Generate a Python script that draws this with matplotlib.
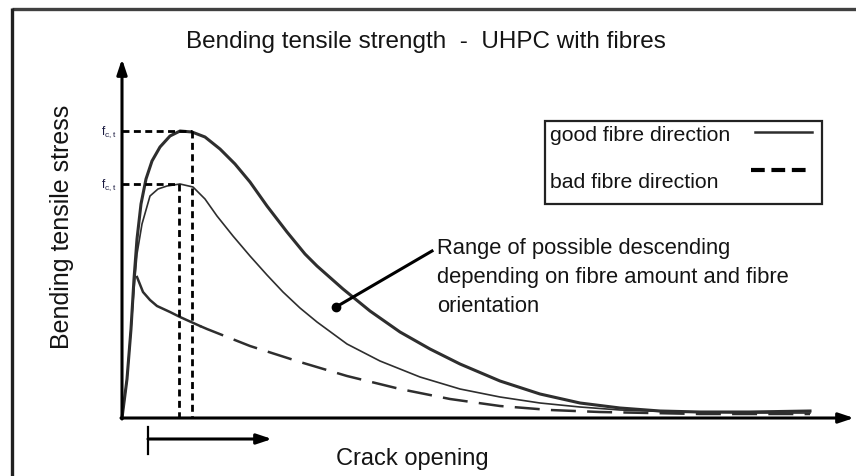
import matplotlib
matplotlib.use("Agg")
import matplotlib.pyplot as plt
from matplotlib.patches import Rectangle

# ---- data (pixel-based units: x = crack opening, y = stress) ----
W, H = 856, 477
X0, Y0 = 122, 419   # axis origin in picture pixels

good_x = [122,127,131,134,137,141,146,152,160,170,180,192,205,220,235,250,267,287,305,317,343,370,400,430,460,500,540,580,620,660,700,750,810]
good_y = [419,380,330,280,240,205,180,162,148,137,132,133,138,150,165,183,207,233,255,267,290,312,333,350,365,382,395,404,409,412,413,413,412]

thin_x = [122,127,131,134,137,142,150,158,167,180,193,205,217,233,250,267,283,300,317,347,380,420,460,500,540,580,620,680,750,810]
thin_y = [419,380,330,290,255,225,197,190,187,185,188,200,217,237,257,276,293,309,323,345,362,378,390,398,404,408,411,413,414,414]

bad_solid_x = [137,143,150,157,170,180,200]
bad_solid_y = [278,293,301,307,313,318,327]
bad_x = [200,207,250,300,347,400,450,500,550,600,650,700,810]
bad_y = [327,330,347,363,377,390,400,407,411,413,414,415,415]

peak_good = (192, 132)
peak_bad = (179, 185)

title = "Bending tensile strength  -  UHPC with fibres"
xlabel = "Crack opening"
ylabel = "Bending tensile stress"
legend_labels = ["good fibre direction", "bad fibre direction"]
note = "Range of possible descending\ndepending on fibre amount and fibre\norientation"

# ---- figure ----
plt.rcParams['font.family'] = ['Liberation Sans', 'DejaVu Sans']
fig = plt.figure(figsize=(W/100, H/100), dpi=100)
ax = fig.add_axes([0, 0, 1, 1])
ax.set_xlim(0, W)
ax.set_ylim(H, 0)
ax.axis("off")

curve_c = "#2e2e2e"
txt_c = "#141414"

# frame (top + left)
ax.plot([12, W], [9.5, 9.5], color="#404040", lw=2.4, solid_capstyle="butt")
ax.plot([12.5, 12.5], [9, H], color="#202020", lw=2.4, solid_capstyle="butt")

# axes arrows
arr = dict(arrowstyle="-|>,head_length=0.9,head_width=0.3", color="black", lw=2.2, shrinkA=0, shrinkB=0)
ax.annotate("", xy=(X0, 60), xytext=(X0, Y0+1), arrowprops=arr)
ax.annotate("", xy=(854, Y0), xytext=(X0-1, Y0), arrowprops=arr)

# curves
ax.plot(good_x, good_y, color=curve_c, lw=2.2, solid_joinstyle="round")
ax.plot(thin_x, thin_y, color=curve_c, lw=1.2, solid_joinstyle="round")
ax.plot(bad_solid_x, bad_solid_y, color=curve_c, lw=1.8)
ax.plot(bad_x, bad_y, color=curve_c, lw=1.8, dashes=(10, 4.5))

# dashed guide lines
gd = dict(color="black", lw=2.0, dashes=(2.5, 1.6))
ax.plot([X0, peak_good[0]], [peak_good[1], peak_good[1]], **gd)
ax.plot([peak_good[0], peak_good[0]], [peak_good[1], Y0], **gd)
ax.plot([X0, peak_bad[0]], [peak_bad[1], peak_bad[1]], **gd)
ax.plot([peak_bad[0], peak_bad[0]], [peak_bad[1], Y0], **gd)

# f_ct labels
for yy in (peak_good[1], peak_bad[1]):
    ax.text(117, yy, r"f$_{\mathregular{c,t}}$", fontsize=8.5, ha="right", va="center", color="#1a1a40")

# title and labels
ax.text(426, 42, title, fontsize=17.5, ha="center", va="center", color=txt_c)
ax.text(62, 227, ylabel, fontsize=18, ha="center", va="center", rotation=90, color=txt_c)
ax.text(412, 459, xlabel, fontsize=17, ha="center", va="center", color=txt_c)

# crack opening arrow
ax.plot([148, 148], [428, 455], color="black", lw=1.6)
ax.annotate("", xy=(272, 440), xytext=(148, 440), arrowprops=arr)

# legend box
ax.add_patch(Rectangle((545, 122), 277, 83, fill=False, edgecolor="#222222", lw=1.6))
ax.text(550, 136, legend_labels[0], fontsize=15.3, ha="left", va="center", color=txt_c)
ax.text(550, 183, legend_labels[1], fontsize=15.3, ha="left", va="center", color=txt_c)
ax.plot([755, 812], [133, 133], color=curve_c, lw=1.8)
ax.plot([751, 808], [171, 171], color="black", lw=3.0, dashes=(3.3, 1.6))

# annotation
ax.text(437, 278, note, fontsize=15.8, ha="left", va="center", linespacing=1.5, color=txt_c)
ax.plot([432, 336], [252, 308], color="black", lw=2.2)
ax.plot([336], [308], "o", color="black", ms=6)

fig.savefig("out.png", dpi=100)
